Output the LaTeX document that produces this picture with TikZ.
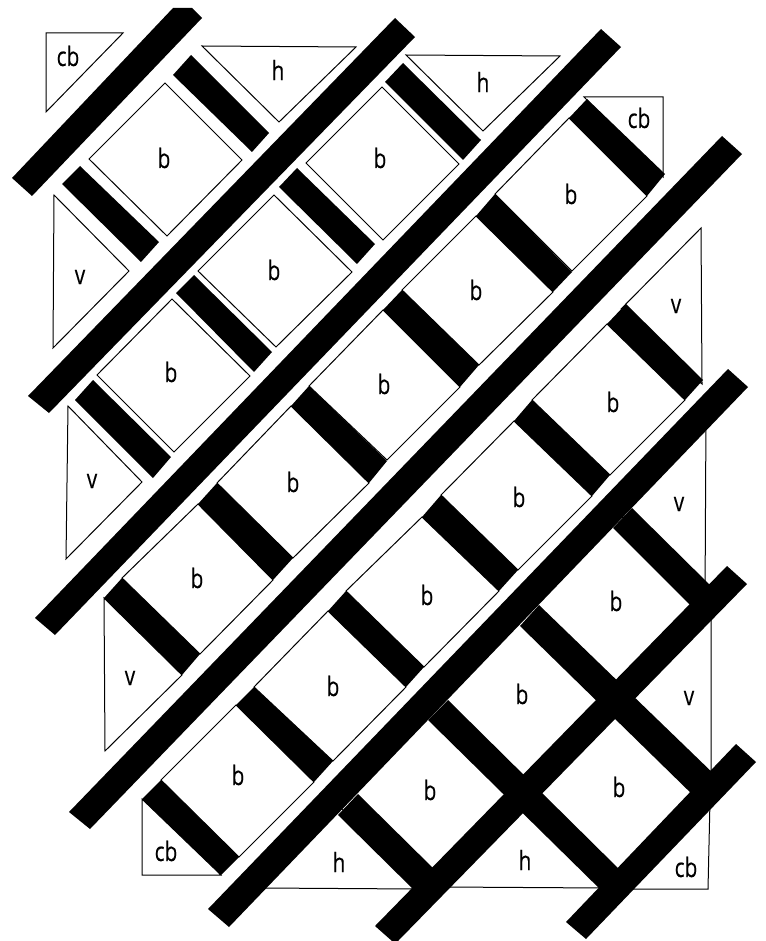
\documentclass[tikz,border=0pt]{standalone}
\usepackage{fontspec}
\setmainfont[FakeBold=0.25]{Open Sans}
\tikzset{
  piece/.style={draw=black,line width=0.75pt,fill=white,line join=miter},
  beam/.style={fill=black,draw=none},
  lbl/.style={font=\fontsize{20pt}{21pt}\selectfont,xscale=0.78,inner sep=0pt,text=black}
}
\begin{document}
\begin{tikzpicture}[x=0.75pt,y=-0.75pt]
\useasboundingbox (0,0) rectangle (765,941);
% triangles
\draw[piece] (46,33) -- (123,33) -- (46,112) -- cycle;
\draw[piece] (202,46) -- (356,47) -- (279,122) -- cycle;
\draw[piece] (54,195) -- (129,271) -- (53,348) -- cycle;
\draw[piece] (406,55) -- (560,56) -- (483,131) -- cycle;
\draw[piece] (584,97) -- (663,97) -- (663,177) -- cycle;
\draw[piece] (68,406) -- (142,482) -- (66,559) -- cycle;
\draw[piece] (104,598) -- (182,675) -- (105,751) -- cycle;
\draw[piece] (701,228) -- (621,309) -- (702,384) -- cycle;
\draw[piece] (142,799) -- (221,875) -- (142,875) -- cycle;
\draw[piece] (706,412) -- (612,507) -- (705,600) -- cycle;
\draw[piece] (711,604) -- (622,702) -- (711,790) -- cycle;
\draw[piece] (710,800) -- (625,889) -- (708,889) -- cycle;
\draw[piece] (262,888) -- (338,805) -- (418,889) -- cycle;
\draw[piece] (445,887) -- (524,806) -- (605,888) -- cycle;
% squares
\draw[piece] (165,83) -- (242,160) -- (167,236) -- (89,159) -- cycle;
\draw[piece] (382,87) -- (459,164) -- (383,240) -- (306,163) -- cycle;
\draw[piece] (274,195) -- (352,272) -- (276,347) -- (198,271) -- cycle;
\draw[piece] (172,299) -- (250,376) -- (174,452) -- (97,375) -- cycle;
\draw[piece] (569,118) -- (647,196) -- (572,271) -- (495,194) -- cycle;
\draw[piece] (476,216) -- (553,292) -- (479,365) -- (402,290) -- cycle;
\draw[piece] (383,310) -- (460,387) -- (387,460) -- (309,386) -- cycle;
\draw[piece] (291,406) -- (369,483) -- (293,558) -- (217,483) -- cycle;
\draw[piece] (198,504) -- (273,580) -- (200,654) -- (122,578) -- cycle;
\draw[piece] (607,324) -- (685,400) -- (610,475) -- (532,400) -- cycle;
\draw[piece] (514,421) -- (592,496) -- (518,570) -- (441,495) -- cycle;
\draw[piece] (422,517) -- (499,591) -- (424,667) -- (346,591) -- cycle;
\draw[piece] (328,611) -- (406,687) -- (333,761) -- (254,687) -- cycle;
\draw[piece] (236,705) -- (314,782) -- (239,857) -- (161,780) -- cycle;
% long beams
\fill[beam] (12,178) -- (173,8) -- (192,8) -- (202,18) -- (32,196) -- cycle;
\fill[beam] (28,396) -- (395,18) -- (415,37) -- (49,413) -- cycle;
\fill[beam] (35,618) -- (601,29) -- (621,47) -- (55,635) -- cycle;
\fill[beam] (69,812) -- (722,136) -- (742,154) -- (90,829) -- cycle;
\fill[beam] (208,909) -- (728,369) -- (748,387) -- (229,927) -- cycle;
\fill[beam] (375,926) -- (727,566) -- (747,584) -- (398,941) -- (392,941) -- cycle;
\fill[beam] (566,922) -- (736,744) -- (756,762) -- (586,939) -- cycle;
% short beams
\fill[beam] (191,55) -- (173,75) -- (252,152) -- (269,133) -- cycle;
\fill[beam] (80,166) -- (62,184) -- (141,262) -- (159,242) -- cycle;
\fill[beam] (297,168) -- (279,187) -- (357,264) -- (375,244) -- cycle;
\fill[beam] (194,275) -- (176,293) -- (254,372) -- (272,352) -- cycle;
\fill[beam] (93,380) -- (75,400) -- (153,478) -- (171,457) -- cycle;
\fill[beam] (403,63) -- (385,82) -- (463,160) -- (481,140) -- cycle;
\fill[beam] (587,99) -- (569,118) -- (647,196) -- (665,174) -- cycle;
\fill[beam] (495,194) -- (476,216) -- (553,292) -- (572,272) -- cycle;
\fill[beam] (402,290) -- (383,310) -- (460,387) -- (479,365) -- cycle;
\fill[beam] (309,386) -- (291,406) -- (369,483) -- (387,461) -- cycle;
\fill[beam] (217,483) -- (198,504) -- (273,580) -- (293,558) -- cycle;
\fill[beam] (122,578) -- (104,598) -- (182,675) -- (200,654) -- cycle;
\fill[beam] (626,304) -- (607,324) -- (685,400) -- (703,380) -- cycle;
\fill[beam] (532,400) -- (514,421) -- (592,496) -- (610,475) -- cycle;
\fill[beam] (441,495) -- (422,517) -- (499,591) -- (518,570) -- cycle;
\fill[beam] (346,591) -- (328,611) -- (406,687) -- (424,667) -- cycle;
\fill[beam] (254,687) -- (236,705) -- (314,782) -- (333,761) -- cycle;
\fill[beam] (161,780) -- (142,799) -- (221,875) -- (239,857) -- cycle;
% lattice beams
\fill[beam] (632,508) -- (613,528) -- (695,610) -- (715,590) -- cycle;
\fill[beam] (539,605) -- (520,626) -- (698,800) -- (718,778) -- cycle;
\fill[beam] (448,700) -- (428,720) -- (607,896) -- (625,875) -- cycle;
\fill[beam] (358,794) -- (338,815) -- (418,894) -- (438,873) -- cycle;
% labels
\node[lbl] (t1) at (68,56) {cb};
\node[lbl] (t2) at (278,70) {h};
\node[lbl] (t3) at (80,277) {v};
\node[lbl] (t4) at (483,82) {h};
\node[lbl] (t5) at (639,118) {cb};
\node[lbl] (t6) at (92,481) {v};
\node[lbl] (t7) at (130,678) {v};
\node[lbl] (t8) at (676,306) {v};
\node[lbl] (t9) at (166,851) {cb};
\node[lbl] (t10) at (679,504) {v};
\node[lbl] (t11) at (689,698) {v};
\node[lbl] (t12) at (339,862) {h};
\node[lbl] (t13) at (525,860) {h};
\node[lbl] (t14) at (686,867) {cb};
\node[lbl] (s1) at (164,158) {b};
\node[lbl] (s2) at (380,158) {b};
\node[lbl] (s3) at (274,270) {b};
\node[lbl] (s4) at (171,372) {b};
\node[lbl] (s5) at (571,194) {b};
\node[lbl] (s6) at (476,290) {b};
\node[lbl] (s7) at (384,384) {b};
\node[lbl] (s8) at (293,482) {b};
\node[lbl] (s9) at (197,578) {b};
\node[lbl] (s10) at (613,402) {b};
\node[lbl] (s11) at (519,497) {b};
\node[lbl] (s12) at (427,595) {b};
\node[lbl] (s13) at (333,686) {b};
\node[lbl] (s14) at (238,775) {b};
\node[lbl] (s15) at (616,601) {b};
\node[lbl] (s16) at (522,694) {b};
\node[lbl] (s17) at (430,790) {b};
\node[lbl] (s18) at (619,787) {b};
\end{tikzpicture}
\end{document}
